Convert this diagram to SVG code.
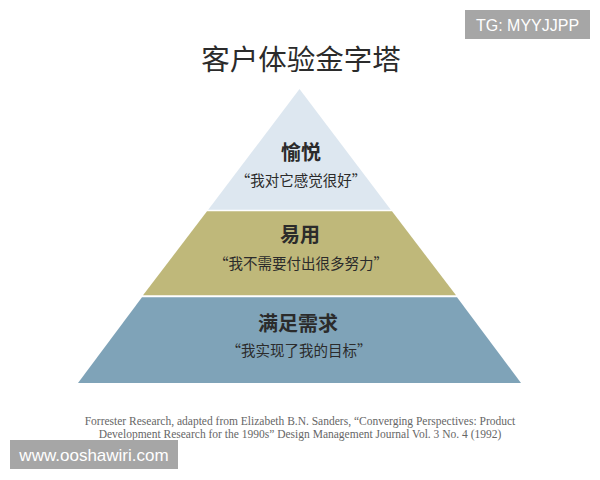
<svg xmlns="http://www.w3.org/2000/svg" width="600" height="480" viewBox="0 0 600 480">
<style>
.cjk{font-family:"Noto Sans CJK SC","Noto Sans",sans-serif;fill:#2b2b2b;text-anchor:middle}
.h{font-size:20px;font-weight:bold}
.q{font-size:14.5px}
.cite{font-family:"Liberation Serif",serif;font-size:11.5px;fill:#666666;text-anchor:middle}
.wm{font-family:"Liberation Sans",Arial,sans-serif;fill:#ffffff}
</style>
<rect width="600" height="480" fill="#ffffff"/>
<text class="cjk" x="301" y="70" font-size="28.5">客户体验金字塔</text>
<g id="tier-top">
<polygon points="299.5,89 208.2,209.7 390.8,209.7" fill="#dde7f0"/>
<text class="cjk h" x="301" y="160">愉悦</text>
<text class="cjk q" x="301" y="186">“我对它感觉很好”</text>
</g>
<g id="tier-middle">
<polygon points="207,211.3 392,211.3 456,295.3 143,295.3" fill="#bfb87a"/>
<text class="cjk h" x="300" y="242">易用</text>
<text class="cjk q" x="301" y="269">“我不需要付出很多努力”</text>
</g>
<g id="tier-bottom">
<polygon points="142,297.3 457,297.3 521,383 78,383" fill="#7fa3b8"/>
<text class="cjk h" x="298" y="331">满足需求</text>
<text class="cjk q" x="299" y="356">“我实现了我的目标”</text>
</g>
<g id="connectors"></g>
<text class="cite" x="300" y="425">Forrester Research, adapted from Elizabeth B.N. Sanders, “Converging Perspectives: Product</text>
<text class="cite" x="300" y="438">Development Research for the 1990s” Design Management Journal Vol. 3 No. 4 (1992)</text>
<g id="wm-top">
<rect x="465" y="10" width="125" height="29" fill="#a6a6a6"/>
<text class="wm" x="527.5" y="30.5" font-size="16" text-anchor="middle">TG: MYYJJPP</text>
</g>
<g id="wm-bottom">
<rect x="10" y="440" width="168" height="29" fill="#a6a6a6"/>
<text class="wm" x="94" y="461" font-size="17" text-anchor="middle">www.ooshawiri.com</text>
</g>
</svg>
